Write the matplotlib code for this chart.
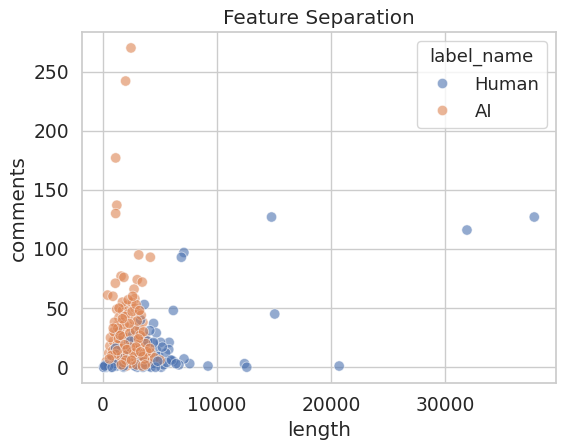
import numpy as np
import pandas as pd
import matplotlib
matplotlib.use('Agg')
import matplotlib.pyplot as plt
import seaborn as sns

# AI posts: length vs comments
ai_length = [2450, 1980, 1110, 1210, 1110, 3130, 4150, 1580, 1830, 1080, 3000, 3440, 400, 870, 2720, 2790,
             1200, 300, 500, 600, 700, 800, 900, 1000, 1100, 1200, 1300, 1400, 1500, 1600, 1700, 1800,
             1900, 2000, 2100, 2200, 2300, 2400, 2500, 2600, 2700, 2800, 2900, 3000, 3100, 3200, 3300,
             3400, 3500, 3600, 3700, 3800, 3900, 4000, 4200, 4500, 5000, 400, 650, 850, 950, 1150, 1250,
             1350, 1450, 1550, 1650, 1750, 1850, 1950, 2050, 2150, 2250, 2350, 2450, 2550, 2650, 2750,
             2850, 2950, 3050, 3150, 3250, 3350, 3450, 3550, 3650, 3750, 3850, 4100, 1700, 2200, 2900,
             3200, 1400, 1000, 1300, 2600, 2400, 1800, 1100, 2000, 3000, 750, 550, 1600,
             1250, 1500, 1900, 2300, 2700, 3100, 3500, 900, 1700, 2100, 2500, 2900, 3300, 3700]
ai_comments = [270, 242, 177, 137, 130, 95, 93, 77, 76, 71, 74, 72, 61, 60, 66, 58,
               49, 5, 12, 18, 3, 8, 22, 15, 28, 35, 10, 42, 20, 38, 48, 30,
               12, 52, 25, 45, 8, 34, 55, 18, 40, 50, 27, 14, 46, 33, 6,
               22, 38, 15, 26, 10, 18, 4, 12, 8, 6, 2, 25, 14, 30, 5, 19,
               24, 31, 9, 16, 26, 36, 43, 1, 11, 21, 29, 3, 47, 9, 23,
               31, 2, 19, 12, 27, 44, 1, 30, 7, 20, 13, 16, 55, 57, 53,
               48, 50, 38, 33, 60, 17, 4, 11, 6, 39, 10, 7, 2,
               14, 27, 19, 37, 12, 24, 9, 33, 41, 15, 6, 17, 13, 2]

# Human posts: length vs comments
human_length = [14770, 31900, 37800, 7090, 6870, 15050, 6160, 3620, 20700, 12400, 12600, 9200, 7600,
                7100, 4430, 4670, 5800, 5760, 6160, 5900, 5050, 6650, 1640,
                100, 300, 700, 800, 1000, 1200, 1500, 1700, 1800, 2000, 2300, 2500, 2700, 2900, 3000,
                3200, 3400, 3600, 3800, 4000, 4200, 4300, 4400, 4500, 4700, 4900, 5100, 5300, 5500,
                5600, 6000, 6400, 700, 1300, 2100, 2600, 3300, 3900, 4100, 1000, 500, 1900, 2800, 3500,
                4600, 5200, 200, 3100, 4430, 50, 150, 800, 1800, 3500, 4800, 2400, 1100]
human_comments = [127, 116, 127, 97, 93, 45, 48, 53, 1, 3, 0, 1, 3,
                  7, 37, 29, 21, 15, 5, 6, 21, 2, 25,
                  0, 0, 0, 2, 5, 1, 8, 24, 0, 3, 5, 12, 2, 33, 0,
                  18, 6, 25, 10, 1, 0, 7, 20, 3, 14, 9, 0, 2, 12,
                  4, 6, 3, 6, 30, 16, 27, 40, 22, 31, 3, 1, 10, 1, 4,
                  0, 17, 2, 9, 21, 0, 1, 0, 1, 0, 5, 22, 16]

# interleave the two groups so the draw order mixes like the original data
rows = []
n = max(len(ai_length), len(human_length))
for i in range(n):
    if i < len(human_length):
        rows.append((human_length[i], human_comments[i], 'Human'))
    if i < len(ai_length):
        rows.append((ai_length[i], ai_comments[i], 'AI'))
df = pd.DataFrame(rows, columns=['length', 'comments', 'label_name'])

sns.set_theme(style='whitegrid')
plt.rcParams['font.family'] = ['DejaVu Sans']

fig = plt.figure(figsize=(5.62, 4.44), dpi=100)
ax = fig.add_axes([0.146, 0.137, 0.843, 0.791])
sns.scatterplot(data=df, x='length', y='comments', hue='label_name',
                hue_order=['Human', 'AI'], alpha=0.6, s=55, ax=ax)

ax.set_title('Feature Separation', fontsize=14.4)
ax.set_xlabel('length', fontsize=14.4)
ax.set_ylabel('comments', fontsize=14.4)
ax.tick_params(labelsize=13.5)
ax.set_xticks([0, 10000, 20000, 30000])
leg = ax.legend(title='label_name', loc='upper right', fontsize=13, title_fontsize=13)

fig.savefig('out.png', dpi=100)
